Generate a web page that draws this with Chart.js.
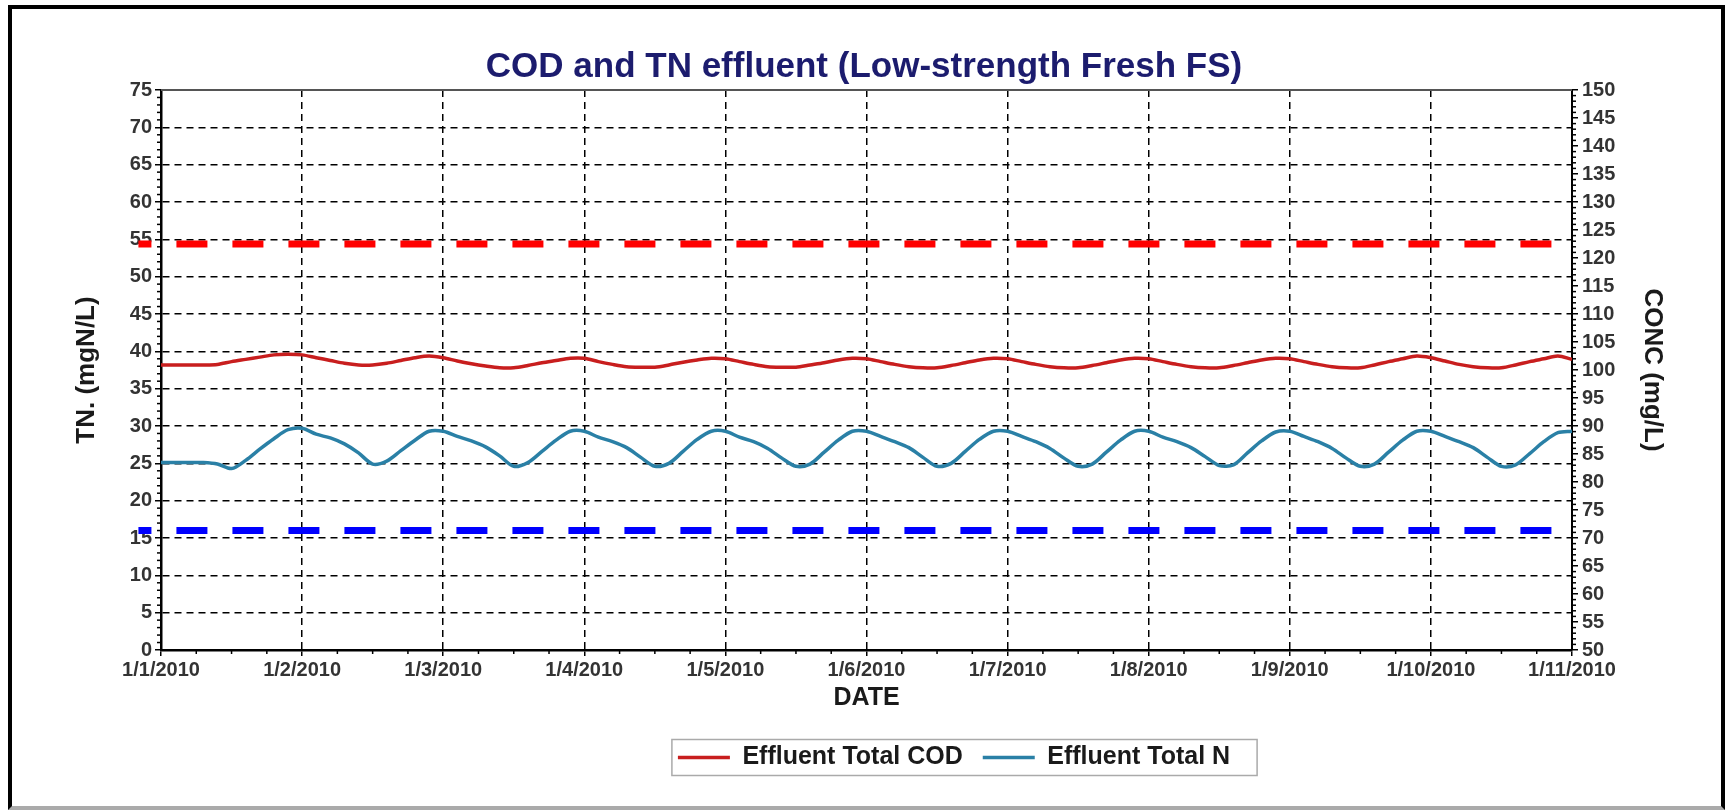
<!DOCTYPE html>
<html>
<head>
<meta charset="utf-8">
<script src="https://cdn.jsdelivr.net/npm/chart.js@4.4.0/dist/chart.umd.min.js"></script>
<style>
    body { margin: 0; background: #fff; }
    #frame { position: absolute; left: 8px; top: 5px; width: 1709px; height: 797px; border: 4px solid #000; border-bottom-color: #aaa; }
    #chartEffluent { position: absolute; left: 0; top: 0; }
</style>
</head>
<body>
<div id="frame"></div>
<canvas id="chartEffluent" width="1728" height="810"></canvas>
<script>
const dateLabels = ['1/1/2010', '1/2/2010', '1/3/2010', '1/4/2010', '1/5/2010', '1/6/2010',
    '1/7/2010', '1/8/2010', '1/9/2010', '1/10/2010', '1/11/2010'];

// one value every tenth of an interval between date ticks
const codEffluent = [
    100.9, 100.9, 100.9, 100.9, 101.0, 101.5, 101.9, 102.3, 102.7, 102.8,
    102.7, 102.2, 101.7, 101.2, 100.9, 100.9, 101.2, 101.7, 102.2, 102.5,
    102.2, 101.6, 101.1, 100.7, 100.4, 100.4, 100.8, 101.3, 101.7, 102.1,
    102.1, 101.5, 101.0, 100.6, 100.5, 100.5, 100.9, 101.4, 101.8, 102.1,
    102.0, 101.5, 101.0, 100.6, 100.5, 100.5, 100.9, 101.3, 101.8, 102.1,
    102.0, 101.5, 101.0, 100.6, 100.4, 100.4, 100.8, 101.3, 101.8, 102.1,
    102.0, 101.5, 101.0, 100.6, 100.4, 100.4, 100.8, 101.3, 101.8, 102.1,
    102.0, 101.5, 101.0, 100.6, 100.4, 100.4, 100.8, 101.3, 101.8, 102.1,
    102.0, 101.5, 101.0, 100.6, 100.4, 100.4, 100.9, 101.5, 102.0, 102.5,
    102.2, 101.6, 101.0, 100.6, 100.4, 100.4, 100.9, 101.5, 102.0, 102.5,
    101.9
];
const tnEffluent = [
    25.1, 25.1, 25.1, 25.1, 24.9, 24.3, 25.4, 26.9, 28.3, 29.5,
    29.7, 28.9, 28.4, 27.6, 26.4, 24.9, 25.3, 26.7, 28.1, 29.3,
    29.3, 28.6, 28.0, 27.2, 26.0, 24.6, 25.1, 26.6, 28.1, 29.3,
    29.3, 28.5, 27.9, 27.1, 25.8, 24.6, 25.0, 26.6, 28.2, 29.3,
    29.3, 28.5, 27.9, 27.0, 25.7, 24.6, 24.9, 26.5, 28.1, 29.3,
    29.3, 28.6, 27.9, 27.1, 25.8, 24.6, 25.0, 26.6, 28.2, 29.3,
    29.3, 28.6, 27.9, 27.0, 25.7, 24.6, 24.9, 26.5, 28.1, 29.3,
    29.3, 28.5, 27.9, 27.1, 25.9, 24.7, 24.8, 26.4, 28.0, 29.2,
    29.3, 28.6, 27.9, 27.0, 25.7, 24.6, 24.9, 26.5, 28.1, 29.3,
    29.3, 28.6, 27.9, 27.1, 25.8, 24.6, 24.8, 26.3, 27.9, 29.1,
    29.3
];
const codLimit = 122.5;   // mg/L, right axis
const tnLimit = 16;       // mgN/L, left axis
const limitSpan = [-0.16, 10];  // the limit dashes start a little left of the axis

const toPoints = (serie) => serie.map((v, i) => ({ x: i / 10, y: v }));

Chart.defaults.font.family = "'Liberation Sans', Arial, sans-serif";
Chart.defaults.color = '#333';

const extras = {
    id: 'extras',
    afterLayout(chart) {
        // legend sits right of centre in the original
        chart.legend.left += 90;
        chart.legend.right += 90;
    },
    afterDraw(chart) {
        const { ctx, chartArea, scales } = chart;
        const line = (x1, y1, x2, y2) => { ctx.beginPath(); ctx.moveTo(x1, y1); ctx.lineTo(x2, y2); ctx.stroke(); };
        ctx.save();
        ctx.strokeStyle = '#555';
        ctx.lineWidth = 2;
        line(chartArea.left, chartArea.top, chartArea.right, chartArea.top);

        // minor ticks
        ctx.strokeStyle = '#000';
        ctx.lineWidth = 1.5;
        for (let v = 0; v <= 75; v++) {
            if (v % 5) { const y = scales.y.getPixelForValue(v); line(chartArea.left - 4, y, chartArea.left, y); }
        }
        for (let v = 50; v <= 150; v++) {
            if (v % 5) { const y = scales.y2.getPixelForValue(v); line(chartArea.right, y, chartArea.right + 4, y); }
        }
        for (let q = 0; q <= 40; q++) {
            if (q % 4) { const x = scales.x.getPixelForValue(q / 4); line(x, chartArea.bottom, x, chartArea.bottom + 4); }
        }

        // legend box
        const hb = chart.legend.legendHitBoxes;
        if (hb && hb.length) {
            const last = hb[hb.length - 1];
            const cy = hb[0].top + hb[0].height / 2;
            const x0 = hb[0].left - 6;
            const x1 = last.left + last.width + 27;
            ctx.strokeStyle = '#aaa';
            ctx.lineWidth = 1.5;
            ctx.strokeRect(x0, cy - 18, x1 - x0, 36);
        }
        ctx.restore();
    }
};

const data = {
    datasets: [
        {
            label: 'Effluent Total COD',
            data: toPoints(codEffluent),
            yAxisID: 'y2',
            borderColor: '#c81e1e',
            backgroundColor: '#c81e1e',
            borderWidth: 3.5,
            pointRadius: 0,
            tension: 0.3
        },
        {
            label: 'Effluent Total N',
            data: toPoints(tnEffluent),
            yAxisID: 'y',
            borderColor: '#2a80a6',
            backgroundColor: '#2a80a6',
            borderWidth: 3.5,
            pointRadius: 0,
            tension: 0.3
        },
        {
            label: 'COD limit',
            data: limitSpan.map(x => ({ x: x, y: codLimit })),
            yAxisID: 'y2',
            borderColor: '#ff0000',
            borderWidth: 7,
            borderDash: [31, 25],
            borderDashOffset: 18,
            pointRadius: 0,
            clip: false
        },
        {
            label: 'TN limit',
            data: limitSpan.map(x => ({ x: x, y: tnLimit })),
            yAxisID: 'y',
            borderColor: '#0000ff',
            borderWidth: 7,
            borderDash: [31, 25],
            borderDashOffset: 18,
            pointRadius: 0,
            clip: false
        }
    ]
};

const config = {
    type: 'line',
    data: data,
    plugins: [extras],
    options: {
        responsive: false,
        animation: false,
        layout: { padding: { top: 0, left: 0, right: 0, bottom: 30 } },
        plugins: {
            title: {
                display: true,
                text: 'COD and TN effluent (Low-strength Fresh FS)',
                color: '#1c1c6e',
                font: { size: 35, weight: 'bold' },
                padding: { top: 46, bottom: 2 }
            },
            legend: {
                position: 'bottom',
                labels: {
                    usePointStyle: true,
                    pointStyle: 'line',
                    pointStyleWidth: 52,
                    padding: 20,
                    color: '#1a1a1a',
                    font: { size: 25, weight: 'bold' },
                    filter: (item) => item.datasetIndex < 2
                }
            },
            tooltip: { enabled: false }
        },
        scales: {
            x: {
                type: 'linear',
                min: 0,
                max: 10,
                afterFit: (scale) => { scale.height = 75; },
                ticks: {
                    stepSize: 1,
                    autoSkip: false,
                    maxRotation: 0,
                    padding: 2,
                    color: '#333',
                    font: { size: 20, weight: 'bold' },
                    callback: (value) => dateLabels[value]
                },
                grid: { color: '#000', lineWidth: 1.5, tickLength: 6, tickColor: '#000' },
                border: { display: true, color: '#000', width: 2.5, dash: [7, 5] },
                title: {
                    display: true,
                    text: 'DATE',
                    color: '#1a1a1a',
                    font: { size: 25, weight: 'bold' },
                    padding: { top: 0, bottom: 12 }
                }
            },
            y: {
                position: 'left',
                min: 0,
                max: 75,
                afterFit: (scale) => { scale.width = 161; },
                ticks: {
                    stepSize: 5,
                    autoSkip: false,
                    padding: 3,
                    color: '#333',
                    font: { size: 20, weight: 'bold' }
                },
                grid: { color: '#000', lineWidth: 1.5, tickLength: 6, tickColor: '#000' },
                border: { display: true, color: '#000', width: 2.5, dash: [7, 5] },
                title: {
                    display: true,
                    text: 'TN. (mgN/L)',
                    color: '#1a1a1a',
                    font: { size: 26, weight: 'bold' },
                    padding: { top: 71, bottom: 0 }
                }
            },
            y2: {
                position: 'right',
                min: 50,
                max: 150,
                afterFit: (scale) => { scale.width = 156; },
                ticks: {
                    stepSize: 5,
                    autoSkip: false,
                    padding: 4,
                    color: '#333',
                    font: { size: 20, weight: 'bold' }
                },
                grid: { drawOnChartArea: false, tickLength: 6, tickColor: '#000', lineWidth: 1.5 },
                border: { display: true, color: '#000', width: 2 },
                title: {
                    display: true,
                    text: 'CONC (mg/L)',
                    color: '#1a1a1a',
                    font: { size: 26, weight: 'bold' },
                    padding: { top: 60, bottom: 0 }
                }
            }
        }
    }
};

const effluentChart = new Chart(
    document.getElementById('chartEffluent'),
    config
);
</script>
</body>
</html>
